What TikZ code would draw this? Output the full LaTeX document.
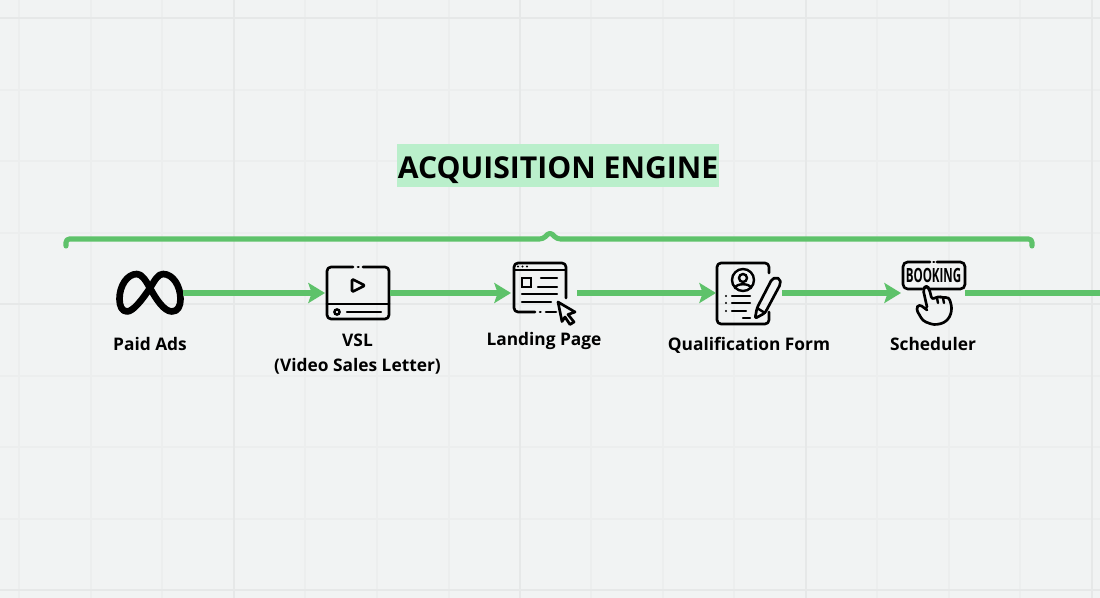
\documentclass[tikz,border=0pt]{standalone}
\usepackage{fontspec}
\setmainfont{Open Sans}
\usetikzlibrary{arrows.meta, positioning}
\definecolor{canvasbg}{RGB}{241,243,243}
\definecolor{gridminor}{RGB}{236,238,238}
\definecolor{gridmajor}{RGB}{230,232,232}
\definecolor{flowgreen}{RGB}{94,194,106}
\definecolor{lightmint}{RGB}{186,239,203}

\begin{document}
\begin{tikzpicture}[
        x=0.75pt, y=-0.75pt,
        icon/.style={rectangle, inner sep=0pt, outer sep=0pt},
        label/.style={font=\fontsize{13}{18.6}\selectfont\bfseries, align=center, inner sep=0pt},
        arrow/.style={-{Stealth[length=12.5pt, width=15pt, inset=2.5pt]}, line width=3.8pt, flowgreen},
        stroke/.style={line width=2pt, line cap=round, line join=round, black},
        thinline/.style={line width=1.8pt, line cap=round, black}
    ]
        \useasboundingbox (0,0) rectangle (1100,598);
        \fill[canvasbg] (0,0) rectangle (1100,598);

        % Grid
        \foreach \gx in {19,91,162,305,377,449,591,663,734,877,949,1020}
            \draw[gridminor, line width=1pt] (\gx,0) -- (\gx,598);
        \foreach \gy in {90,161,233,376,447,519}
            \draw[gridminor, line width=1pt] (0,\gy) -- (1100,\gy);
        \foreach \gx in {234,520,806,1092}
            \draw[gridmajor, line width=1.3pt] (\gx,0) -- (\gx,598);
        \foreach \gy in {18,304,590}
            \draw[gridmajor, line width=1.3pt] (0,\gy) -- (1100,\gy);

        % Title
        \node[fill=lightmint, anchor=base, minimum width=241.5pt, text height=25.9pt, text depth=6.4pt, inner sep=0pt,
            font=\fontsize{22.6}{26}\selectfont\bfseries] (title) at (558,178.5) {ACQUISITION ENGINE};

        % Brace
        \draw[flowgreen, line width=3.8pt, line cap=round, line join=round, rounded corners=2.5pt]
            (66,246) -- (66,239) -- (543,239) -- (550,232) -- (557,239) -- (1032,239) -- (1032,246);

        % Icon nodes
        \node[icon, minimum width=49.5pt, minimum height=32pt] (paidads) at (150,293) {};
        \node[icon, minimum width=48.75pt, minimum height=40pt, right=106.5pt of paidads] (vsl) {};
        \node[icon, minimum width=49.5pt, minimum height=40pt, right=90.75pt of vsl] (landing) {};
        \node[icon, minimum width=49.5pt, minimum height=48pt, right=104.25pt of landing] (form) {};
        \node[icon, minimum width=48pt, minimum height=48pt, right=89.25pt of form] (booking) {};
        \coordinate (exit) at (1100,293);

        % Labels
        \node[label, below=17.4pt of paidads] (paidlabel) {Paid Ads};
        \node[label, below=10.4pt of vsl] (vsllabel) {VSL\\(Video Sales Letter)};
        \node[label, below=9.1pt of landing] (landinglabel) {Landing Page};
        \node[label, below=8.8pt of form] (formlabel) {Qualification Form};
        \node[label, below=8.8pt of booking] (bookinglabel) {Scheduler};

        % Meta logo
        \draw[black, line width=5pt, line join=round]
            (137,274) .. controls (142,274) and (146,281) .. (150,288)
            .. controls (156,299) and (164,311.5) .. (172,311.5)
            .. controls (178,311.5) and (180.5,306) .. (180.5,299)
            .. controls (180.5,286) and (173,274) .. (163,274)
            .. controls (158,274) and (155,280) .. (150,288)
            .. controls (142,300) and (133,311.5) .. (127,311.5)
            .. controls (122,311.5) and (119.5,306) .. (119.5,299)
            .. controls (119.5,286) and (127,274) .. cycle;

        % VSL icon
        \draw[stroke, rounded corners=3pt]
            (353,267) -- (327,267) -- (327,319) -- (389,319) -- (389,267) -- (363,267);
        \draw[stroke] (358,267) -- (358.5,267);
        \draw[stroke] (327,304) -- (389,304);
        \draw[stroke, rounded corners=1pt] (352,279) -- (352,292) -- (365,285.5) -- cycle;
        \draw[thinline] (337,312) circle[radius=2.6];
        \draw[thinline] (347,312) -- (381,312);

        % Landing page icon
        \draw[stroke, rounded corners=3pt]
            (535,312) -- (514,312) -- (514,263) -- (566,263) -- (566,298);
        \draw[stroke] (540,312) -- (540.5,312);
        \draw[stroke] (546,312) -- (556,312);
        \draw[thinline] (514,270) -- (566,270);
        \foreach \dotx in {518,522.5,527}
            \fill (\dotx,266.5) circle[radius=1.1];
        \draw[thinline] (522,278) rectangle (531,287);
        \draw[thinline] (541,278) -- (557,278);
        \draw[thinline] (538,287) -- (557,287);
        \draw[thinline] (522,294) -- (557,294);
        \draw[thinline] (522,302) -- (551,302);
        \draw[stroke] (558,302) -- (575,312) -- (568,314.5) -- (574,322) -- (570,324.5)
            -- (565,317) -- (562,321.5) -- cycle;

        % Qualification form icon
        \draw[stroke, rounded corners=3pt]
            (769,273) -- (769,263) -- (717,263) -- (717,324) -- (769,324) -- (769,312);
        \draw[thinline] (743,280) circle[radius=11];
        \draw[thinline] (743,278) circle[radius=4];
        \draw[thinline] (735,288) .. controls (736,283) and (750,283) .. (751,288);
        \foreach \rowy in {296,303,311}
            \fill (726,\rowy) circle[radius=1.1];
        \draw[thinline] (732,296) -- (750,296);
        \draw[thinline] (732,303) -- (750,303);
        \draw[thinline] (732,311) -- (746,311);
        \draw[thinline] (743,318) -- (750,318);
        \draw[stroke, rounded corners=1.5pt] (755,318.5) -- (757,308) -- (772,279) -- (776,277.5)
            -- (780,279) -- (780.5,284) -- (765,313) -- cycle;
        \draw[thinline] (757,308) -- (765,313);

        % Booking icon
        \node[icon] (bookingtext) at (933.5,275) {\fontsize{14.7}{14.7}\selectfont\bfseries\scalebox{0.59}[1]{BOOKING}};
        \draw[stroke, rounded corners=3.5pt]
            (930,262) -- (903,262) -- (903,289) -- (922,289);
        \draw[stroke, rounded corners=3.5pt]
            (929,289) -- (965,289) -- (965,262) -- (937,262);
        \draw[stroke] (933.5,262) -- (934,262);
        \draw[stroke, rounded corners=2.5pt]
            (927,307) -- (923,289) -- (926,286) -- (929,288) -- (932,300) -- (938,296) -- (943,298)
            -- (949,297) -- (952,308) -- (950,317) -- (944,323) -- (934,325) -- (923,321)
            -- (916,309) -- (919,304) -- (927,310);
        \draw[thinline] (937,298) -- (938,303);
        \draw[thinline] (943,298) -- (944,303);

        % Arrows
        \draw[arrow] (paidads.east) -- (vsl.west);
        \draw[arrow] (vsl.east) -- (landing.west);
        \draw[arrow] (landing.east) -- (form.west);
        \draw[arrow] (form.east) -- (booking.west);
        \draw[line width=3.8pt, flowgreen] (booking.east) -- (exit);

    \end{tikzpicture}
\end{document}
